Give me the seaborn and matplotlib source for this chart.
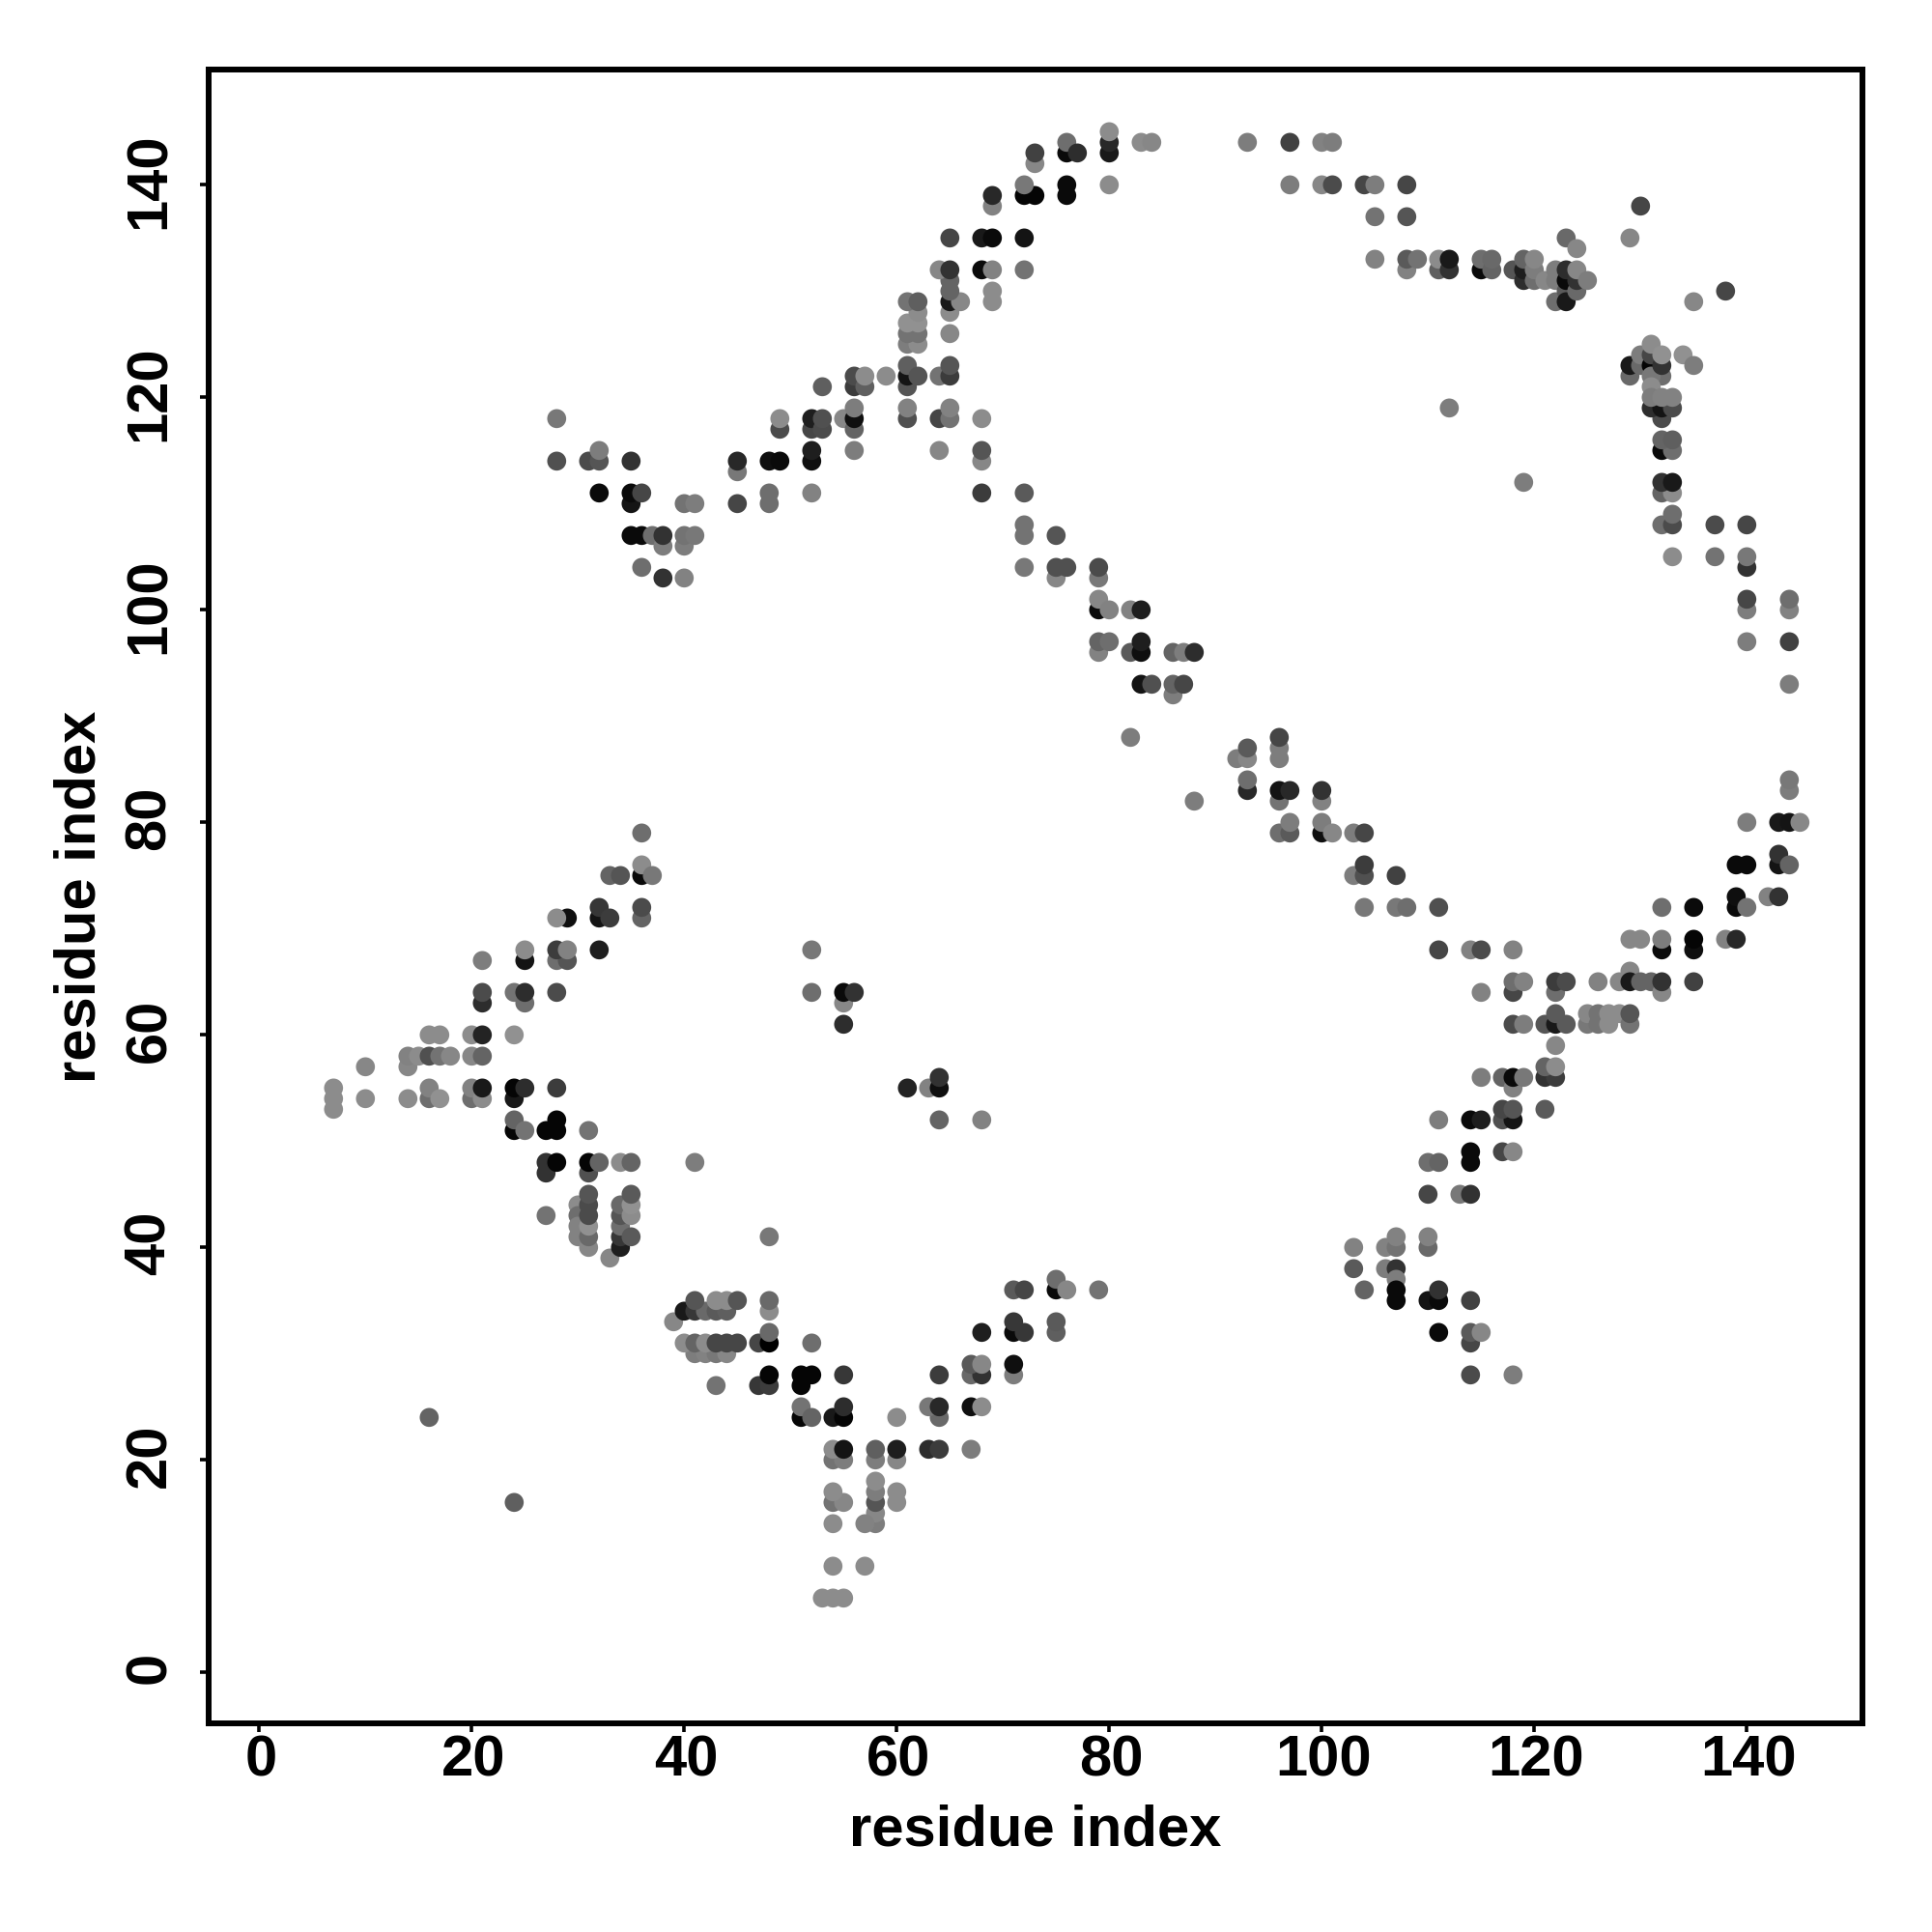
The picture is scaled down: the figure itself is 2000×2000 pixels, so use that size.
import matplotlib
matplotlib.use("Agg")
import matplotlib.pyplot as plt
from matplotlib.transforms import ScaledTranslation
import pandas as pd
import seaborn as sns

# (residue i, residue j, grey level 0-255); later points sit on top of earlier ones
left_arm_up = [(36,79,110),(33,75,100),(34,75,85),(36,75,10),(36,76,140),(37,75,120),(36,71,100),(36,72,75),
    (29,71,15),(28,71,140),(32,71,20),(32,72,55),(33,71,60),(32,68,30),(28,67,110),(29,67,85),(28,68,60),(29,68,130),
    (25,67,20),(25,68,140),(21,67,125),(21,63,45),(21,64,75),(24,64,115),(25,63,110),(25,64,45),(28,64,75),
    (24,60,145),(20,60,140),(21,60,35),(16,60,140),(17,60,140),(14,57,135),(10,57,135),(14,58,130),(15,58,140),
    (16,58,80),(17,58,115),(18,58,135),(20,58,135),(21,58,100)]
left_arm_down = [(7,53,140),(7,54,140),(7,55,140),(10,54,140),(14,54,140),(16,54,110),(16,55,130),(17,54,145),
    (20,54,110),(20,55,130),(21,54,140),(21,55,25),(24,54,25),(24,55,5),(25,55,45),(28,55,60),
    (24,51,5),(24,52,100),(25,51,115),(27,51,5),(28,51,5),(28,52,5),(31,51,115),
    (27,47,50),(27,48,50),(28,48,5),(31,47,80),(31,48,5),(32,48,100),(34,48,140),(35,48,100),(41,48,125),
    (27,43,115),(30,44,140),(30,43,110),(30,42,130),(30,41,130),(31,40,135),(31,41,105),(31,42,145),(31,43,75),
    (31,44,75),(31,45,85),(33,39,135),(34,40,30),(34,41,55),(34,42,110),(34,43,85),(34,44,105),(35,41,90),
    (35,43,140),(35,44,145),(35,45,90),(16,24,100),(24,16,95)]
bottom_left = [(39,33,135),(40,34,25),(41,34,55),(42,34,105),(43,34,90),(44,34,95),(41,35,85),(43,35,140),(44,35,140),
    (45,35,85),(48,34,140),(48,35,105),(41,30,125),(42,30,130),(43,30,120),(44,30,135),(40,31,140),(41,31,100),
    (42,31,140),(43,31,70),(44,31,70),(45,31,70),(47,31,70),(48,31,0),(48,32,105),(52,31,110),(48,41,120),
    (43,27,115),(47,27,55),(48,27,60),(48,28,5),(51,27,5),(51,28,5),(52,28,5),(55,28,55),
    (51,24,5),(51,25,115),(52,24,100),(54,24,25),(55,24,5),(55,25,45)]
bottom_v = [(54,20,115),(55,20,125),(54,21,140),(55,21,20),(58,20,125),(58,21,95),(60,20,135),(60,21,30),
    (63,21,45),(64,21,60),(67,21,125),(60,24,140),(64,24,105),(63,25,120),(64,25,40),(67,25,15),(68,25,140),
    (54,16,115),(55,16,135),(54,17,140),(60,16,140),(60,17,140),(58,14,125),(58,15,135),(58,16,85),(58,17,125),(58,18,140),
    (54,14,140),(57,14,130),(54,10,140),(57,10,140),(53,7,140),(54,7,140),(55,7,140)]
bottom_right = [(64,28,60),(67,28,105),(68,28,50),(71,28,125),(67,29,90),(68,29,135),(71,29,15),(68,32,30),
    (71,32,10),(72,32,55),(71,33,55),(75,32,95),(75,33,90),(71,36,90),(72,36,70),(75,36,10),(75,37,110),(76,36,135),(79,36,115)]
upper_left = [(28,114,80),(28,118,120),(31,114,75),(32,114,85),(32,115,125),(32,111,10),(35,114,50),(35,110,20),
    (35,111,10),(36,111,70),(35,107,10),(36,107,10),(37,107,110),(38,106,125),(38,107,50),(36,104,110),(38,103,50),
    (40,103,130),(40,106,125),(40,107,115),(41,107,120),(40,110,115),(41,110,125),(45,113,120),(45,114,40),(45,110,70),
    (48,110,110),(48,111,110),(48,114,15),(49,114,10)]
upper_rise = [(49,117,75),(49,118,140),(52,111,130),(52,114,15),(52,115,30),(52,117,70),(52,118,30),(53,117,75),(53,118,80),
    (55,118,135),(56,115,125),(56,117,100),(56,118,15),(56,119,125),(53,121,95),(56,121,60),(56,122,75),(57,121,95),(57,122,140),(59,122,140),
    (61,118,80),(61,119,130),(61,121,85),(61,122,20),(61,123,95),(62,122,85),(64,115,135),(64,118,70),(65,118,115),(65,119,130),
    (64,122,115),(65,122,60),(65,123,85),(61,125,125),(62,125,140),(61,126,115),(62,126,115),(61,127,145),(62,127,145),
    (62,128,140),(61,129,115),(62,129,95),(65,126,135),(65,128,140),(65,129,25),(66,129,135),(65,130,100),(65,131,100),
    (64,132,135),(65,132,50),(65,135,70),(68,132,10),(69,132,130),(69,129,140),(69,130,140),(72,132,115),(68,135,25),(69,135,10),(72,135,20),
    (69,138,130),(69,139,40),(72,139,5),(73,139,5),(72,140,120),(76,139,10),(76,140,10),(80,140,140),
    (73,142,135),(73,143,65),(76,143,10),(76,144,110),(77,143,45),(80,143,25),(80,144,40),(80,145,140),(83,144,140),(84,144,135)]
middle_diagonal = [(68,118,140),(68,114,135),(68,115,85),(68,111,60),(72,111,90),(72,107,115),(72,108,115),(75,107,85),(72,104,120),
    (75,103,135),(75,104,80),(76,104,80),(79,103,120),(79,104,75),(79,100,10),(79,101,135),(80,100,130),(82,100,130),(83,100,30),
    (79,96,130),(79,97,100),(80,97,110),(82,96,90),(83,96,15),(83,97,30),(83,93,20),(84,93,80),(86,92,125),(86,93,100),(87,93,70),
    (86,96,100),(87,96,125),(88,96,45),(82,88,125),(88,82,125),(92,86,125),(93,86,135),(93,87,90),(93,83,40),(93,84,110),
    (96,86,125),(96,87,125),(96,88,70),(96,82,115),(96,83,20),(97,83,40),(100,82,130),(100,83,50),(96,79,110),(97,79,90),(97,80,125),
    (100,79,15),(100,80,125),(101,79,135),(103,79,125),(104,79,70),(103,75,125),(104,75,80),(104,76,60),(104,72,120),(107,75,65),
    (107,72,120),(108,72,110),(111,72,80)]
lower_right = [(129,69,135),(130,69,135),(132,68,10),(132,69,125),(135,68,15),(135,69,5),(138,69,130),(139,69,40),
    (111,68,70),(114,68,130),(115,68,75),(118,68,130),(118,64,70),(118,65,110),(119,65,130),(115,64,130),(122,64,110),(122,65,60),(123,65,75),
    (126,65,130),(128,65,135),(129,66,135),(129,65,25),(130,65,100),(131,65,100),(132,64,135),(132,65,50),(135,65,65),
    (118,61,75),(119,61,125),(121,61,85),(122,61,25),(122,62,90),(123,61,90),(125,61,120),(125,62,135),(126,61,115),(126,62,115),
    (127,61,140),(127,62,140),(128,62,140),(129,61,115),(129,62,85),(122,59,135),(121,56,50),(122,56,60),(121,57,100),(122,57,140),
    (115,56,125),(117,56,100),(118,55,130),(118,56,10),(119,56,120),(111,52,125),(114,52,10),(115,52,30),(117,52,80),(118,52,20),
    (117,53,70),(118,53,85),(121,53,90),(114,48,10),(114,49,10),(117,49,70),(118,49,135),(110,48,110),(111,48,100),
    (110,45,70),(113,45,120),(114,45,50),(103,40,130),(106,40,130),(107,40,115),(107,41,130),(110,40,105),(110,41,130),
    (103,38,90),(106,38,125),(107,38,50),(107,37,125),(104,36,100),(107,35,10),(107,36,10),(110,35,20),(111,35,10),(111,36,50),
    (114,35,65),(111,32,10),(114,31,70),(114,32,90),(115,32,135),(114,28,75),(118,28,125)]
top_right = [(93,144,125),(97,144,65),(97,140,125),(100,144,130),(101,144,125),(100,140,135),(101,140,75),(104,140,70),(105,140,125),
    (105,137,115),(108,140,70),(108,137,85),(105,133,130),(108,132,130),(108,133,90),(109,133,115),(111,132,95),(111,133,140),(112,132,50),(112,133,25),
    (115,132,10),(115,133,110),(116,132,100),(116,133,105),(118,132,85),(119,131,45),(119,132,30),(119,133,100),(120,131,110),(120,132,125),(120,133,135),(121,131,135),
    (122,129,110),(122,131,125),(122,132,125),(123,130,90),(123,129,25),(123,131,10),(123,132,45),(124,130,105),(124,131,50),(124,132,135),(125,131,125),
    (123,135,105),(124,134,135),(129,135,135),(130,138,70),(138,130,70),(135,129,135),(112,119,125),(119,112,125)]
right_column = [(129,122,105),(129,123,25),(130,123,105),(130,124,125),(131,123,5),(131,124,70),(131,125,140),(132,122,110),(131,122,120),(132,123,50),(132,124,145),
    (134,124,145),(135,123,125),(131,121,140),(132,118,75),(131,119,45),(132,119,20),(133,119,75),(131,120,125),(132,120,130),(133,120,130),
    (132,115,10),(133,115,110),(132,116,100),(133,116,95),(132,111,100),(133,111,140),(132,112,50),(133,112,25),
    (132,108,110),(133,108,75),(133,109,110),(137,108,75),(140,108,70),(133,105,140),(137,105,115),(140,104,50),(140,105,120),
    (140,100,125),(140,101,70),(144,100,130),(144,101,110),(140,97,125),(144,97,65),(144,93,125),
    (144,83,125),(144,84,120),(140,80,125),(143,80,25),(144,80,20),(145,80,135),(143,76,20),(143,77,50),(144,76,100),
    (139,76,10),(140,76,10),(139,72,10),(139,73,15),(140,72,115),(142,73,130),(143,73,50),(135,72,10),(132,72,110)]
centre_points = [(52,64,110),(52,68,120),(55,61,45),(55,63,135),(55,64,10),(56,64,50),(61,55,35),(63,55,130),(64,55,15),(64,56,50),(64,52,100),(68,52,130)]

tick_values = [0, 20, 40, 60, 80, 100, 120, 140]
axis_title = "residue index"

groups = [left_arm_up, left_arm_down, bottom_left, bottom_v, bottom_right, upper_left, upper_rise,
          middle_diagonal, lower_right, top_right, right_column, centre_points]
df = pd.DataFrame([p for g in groups for p in g], columns=["i", "j", "shade"])

sns.set_theme(style="white")
plt.rcParams["font.family"] = ["Liberation Sans", "DejaVu Sans"]
plt.rcParams["font.weight"] = "bold"

fig = plt.figure(figsize=(10, 10), dpi=200)
left, right, top, bottom = 216.3, 1928.0, 72.0, 1783.7
ax = fig.add_axes([left/2000, 1-bottom/2000, (right-left)/2000, (bottom-top)/2000])
palette = {v: (v/255, v/255, v/255) for v in df["shade"].unique()}
sns.scatterplot(data=df, x="i", y="j", hue="shade", palette=palette, legend=False,
                s=50, linewidth=0, alpha=1, ax=ax)
ax.set_xlim(-4.727, 150.88)
ax.set_ylim(-4.764, 150.85)
ax.set_xticks(tick_values)
ax.set_yticks(tick_values)
ax.tick_params(axis="both", length=3.1, width=1.3, color="black", labelcolor="black",
               labelsize=21.5, direction="out", bottom=True, left=True)
ax.tick_params(axis="x", pad=16.45)
ax.tick_params(axis="y", pad=13.2)
x_nudge = ScaledTranslation(2/200, 0, fig.dpi_scale_trans)
y_nudge = ScaledTranslation(0, 4.5/200, fig.dpi_scale_trans)
for t in ax.get_xticklabels():
    t.set_va("baseline")
    t.set_transform(t.get_transform() + x_nudge)
for t in ax.get_yticklabels():
    t.set(rotation=90, rotation_mode="anchor", ha="center", va="baseline")
    t.set_transform(t.get_transform() + y_nudge)
for s in ax.spines.values():
    s.set_visible(True)
    s.set_color("black")
    s.set_linewidth(2.15)
ax.set_xlabel(axis_title, fontsize=21.5, fontweight="bold", color="black")
ax.set_ylabel(axis_title, fontsize=21.5, fontweight="bold", color="black")
ax.xaxis.label.set_va("baseline")
ax.yaxis.label.set(rotation=90, rotation_mode="anchor", ha="center", va="baseline")
ax.xaxis.set_label_coords(0.5, -(1910.7-bottom)/(bottom-top))
ax.yaxis.set_label_coords(-(left-98.3)/(right-left), 0.5)
fig.savefig("out.png", dpi=200, facecolor="white")
